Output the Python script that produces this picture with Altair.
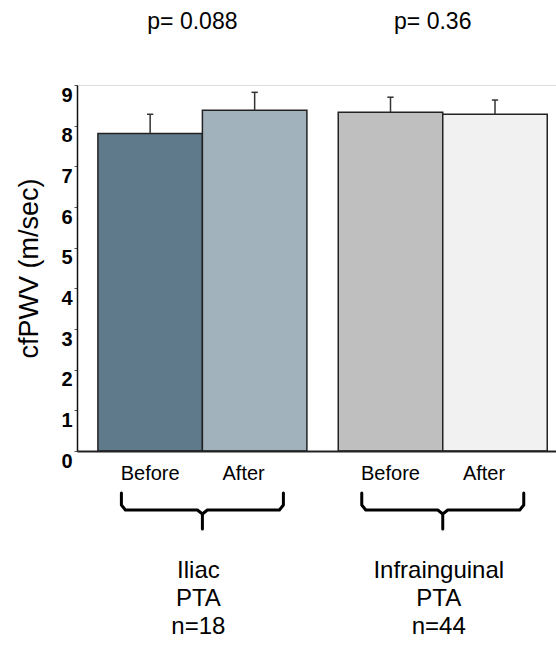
import altair as alt
import pandas as pd

# ---- data ----
groups = ["Iliac", "Infrainguinal"]
phases = ["Before", "After"]
means = [7.81, 8.38, 8.33, 8.28]
errors = [0.47, 0.44, 0.37, 0.35]
p_values = ["p= 0.088", "p= 0.36"]
group_lines = [["Iliac", "PTA", "n=18"], ["Infrainguinal", "PTA", "n=44"]]

# ---- styles / layout (not data) ----
bar_colors = ["#5f7a8b", "#a2b2bd", "#bfbfbf", "#f1f1f1"]
FONT = "Liberation Sans"
W, H = 479, 366
UNIT = 104.5           # pixels per bar width
LEFT = 0.2             # outer gap before first bar (bar widths)
GAP = 0.3              # gap between groups (bar widths)
XMAX = W / UNIT

rows = []
k = 0
for gi, g in enumerate(groups):
    for pi, ph in enumerate(phases):
        start = LEFT + gi * (2 + GAP) + pi
        rows.append(dict(key=f"{g} {ph}", group=g, phase=ph, mean=means[k],
                         top=means[k] + errors[k], x0=start, x1=start + 1,
                         xc=start + 0.5, c0=start + 0.5 - 0.03, c1=start + 0.5 + 0.03))
        k += 1
df = pd.DataFrame(rows)

xs = alt.Scale(domain=[0, XMAX], nice=False, zero=False)
ys = alt.Scale(domain=[0, 9], nice=False)

base = alt.Chart(df)

bars = base.mark_bar(stroke="#222222", strokeWidth=1.5).encode(
    x=alt.X("x0:Q", scale=xs,
            axis=alt.Axis(labels=False, ticks=False, grid=False, title=None,
                          domainColor="#222222", domainWidth=2, zindex=1)),
    x2="x1:Q",
    y=alt.Y("mean:Q", scale=ys,
            axis=alt.Axis(values=[i * 0.5 for i in range(19)],
                          labelExpr="datum.value % 1 === 0 ? datum.label : ''",
                          grid=False, domainColor="#111111", domainWidth=1.5,
                          tickColor="#555555", tickSize=3, tickWidth=1,
                          labelFont=FONT, labelFontSize=20, labelFontWeight="bold",
                          labelColor="black", labelBaseline="top", labelPadding=2,
                          title="cfPWV (m/sec)", titleFont=FONT, titleFontSize=27,
                          titleFontWeight="normal", titleColor="black",
                          titleX=-40, titleY=H / 2, titleAngle=270,
                          titleBaseline="alphabetic", titleAlign="center")),
    y2=alt.datum(0),
    color=alt.Color("key:N", scale=alt.Scale(domain=list(df["key"]), range=bar_colors),
                    legend=None),
)

err = base.mark_rule(color="#333333", strokeWidth=1.5).encode(
    x=alt.X("xc:Q", scale=xs), y=alt.Y("mean:Q", scale=ys), y2="top:Q")
cap = base.mark_rule(color="#333333", strokeWidth=1.5).encode(
    x=alt.X("c0:Q", scale=xs), x2="c1:Q", y=alt.Y("top:Q", scale=ys))

# phase labels under bars
phase_text = []
for ph, dx in [("Before", 0), ("After", -11)]:
    phase_text.append(
        alt.Chart(df[df["phase"] == ph]).mark_text(
            font=FONT, fontSize=20, color="black", align="center",
            baseline="alphabetic", dx=dx).encode(
            x=alt.X("xc:Q", scale=xs), y=alt.value(395), text="phase:N"))

# group level annotations
gdf = pd.DataFrame({
    "group": groups,
    "p": p_values,
    "gc": [LEFT + gi * (2 + GAP) + 1 for gi in range(len(groups))],
})
ptext = alt.Chart(gdf).mark_text(font=FONT, fontSize=23, color="black",
                                 align="center", baseline="alphabetic", dx=-10).encode(
    x=alt.X("gc:Q", scale=xs), y=alt.value(-56), text="p:N")

line_layers = []
for li in range(3):
    ldf = gdf.assign(t=[gl[li] for gl in group_lines])
    line_layers.append(
        alt.Chart(ldf).mark_text(font=FONT, fontSize=24, color="black",
                                 align="center", baseline="alphabetic", dx=-4).encode(
            x=alt.X("gc:Q", scale=xs), y=alt.value(493 + 28 * li), text="t:N"))

# braces under each group (shape offsets in px relative to group centre / baseline)
shape = [(-81, 493), (-81, 505), (-77, 510), (-5, 510), (0, 514), (0, 529),
         (0, 514), (5, 510), (77, 510), (81, 505), (81, 493)]
brows = []
for gi, g in enumerate(groups):
    gc = LEFT + gi * (2 + GAP) + 1
    for oi, (dxp, yp) in enumerate(shape):
        brows.append(dict(group=g, order=oi, bx=gc + dxp / UNIT,
                          by=(451 - yp) / (H / 9)))
bdf = pd.DataFrame(brows)
braces = alt.Chart(bdf).mark_line(color="black", strokeWidth=3, strokeCap="round",
                                  strokeJoin="round", clip=False).encode(
    x=alt.X("bx:Q", scale=xs), y=alt.Y("by:Q", scale=ys),
    detail="group:N", order="order:Q")

chart = alt.layer(bars, err, cap, *phase_text, ptext, *line_layers, braces).properties(
    width=W, height=H,
    padding={"left": 77, "top": 85, "right": 0, "bottom": 194},
    autosize=alt.AutoSizeParams(type="none"),
).configure_view(stroke=None).configure(background="white")

chart.save("out.html", embed_options={"renderer": "svg", "actions": False})
